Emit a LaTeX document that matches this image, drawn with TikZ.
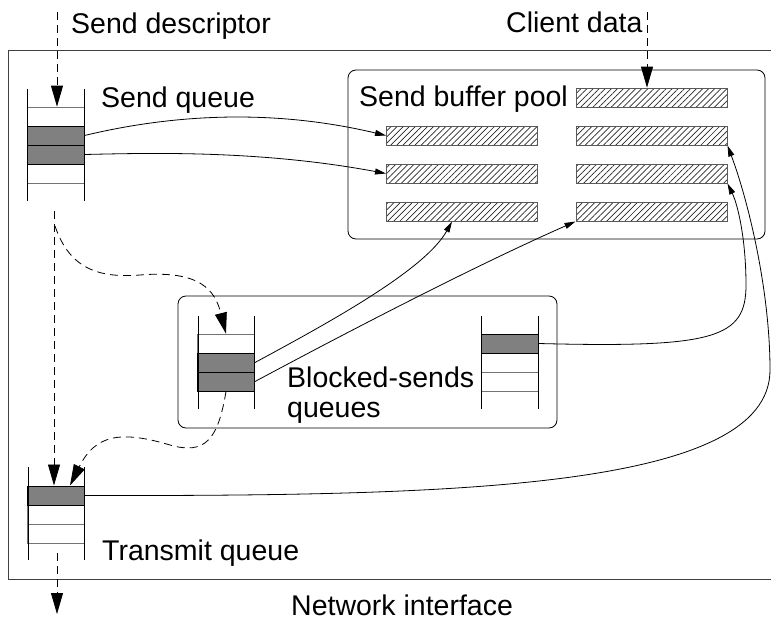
\documentclass[tikz,border=0pt]{standalone}
\usepackage{fontspec}
\setmainfont{Liberation Sans}
\usetikzlibrary{arrows.meta,patterns.meta,calc}
\begin{document}
\begin{tikzpicture}[x=1pt,y=-1pt,
  font=\fontsize{28.5}{30}\selectfont,
  lbl/.style={anchor=base west,inner sep=0pt},
  cellw/.style={draw=black!55,line width=0.7pt,fill=white,minimum width=57pt,minimum height=19pt,inner sep=0pt},
  cellg/.style={draw=black,line width=1pt,fill=black!50,minimum width=57pt,minimum height=19pt,inner sep=0pt},
  buf/.style={draw=black!65,line width=1pt,pattern={Lines[angle=45,distance=4.3pt,line width=0.7pt]},pattern color=black!85,minimum width=151pt,minimum height=19pt,inner sep=0pt},
  pool/.style={draw=black,line width=0.8pt,rounded corners=8pt,inner sep=0pt},
  flow/.style={dash pattern=on 8pt off 5pt,line width=0.8pt,-{Triangle[length=21pt,width=12pt]}},
  link/.style={line width=0.8pt,-{Triangle[length=11pt,width=6pt]}},
  qside/.style={line width=0.8pt}
]
\useasboundingbox (0,0) rectangle (771,621);
% outer frame
\draw[line width=0.8pt,black!75] (8,50) rectangle (780,579);
% pool boxes
\node[pool,minimum width=417pt,minimum height=169pt] (bufpool) at (556.5,154.5) {};
\node[pool,minimum width=379pt,minimum height=132pt] (blkbox) at (367.5,362) {};
% buffers
\node[buf] (b0) at (651.5,97.5) {};
\node[buf] (b21) at (462,135.5) {};
\node[buf] (b22) at (651.5,135.5) {};
\node[buf] (b31) at (462,173.5) {};
\node[buf] (b32) at (651.5,173.5) {};
\node[buf] (b41) at (462,211.5) {};
\node[buf] (b42) at (651.5,211.5) {};
% send queue
\node[cellw] (sq0) at (55.5,116.5) {};
\node[cellw] (sq3) at (55.5,173.5) {};
\node[cellg] (sq1) at (55.5,135.5) {};
\node[cellg] (sq2) at (55.5,154.5) {};
\draw[qside] (27,89) -- (27,201) (84,89) -- (84,201);
% blocked queue 1
\node[cellw] (bq0) at (226,343.5) {};
\node[cellg] (bq1) at (226,362.5) {};
\node[cellg] (bq2) at (226,381.5) {};
\draw[qside] (198,316) -- (198,409) (254,316) -- (254,409);
% blocked queue 2
\node[cellw] (cq2) at (509.5,362.5) {};
\node[cellw] (cq3) at (509.5,381.5) {};
\node[cellg] (cq1) at (509.5,343.5) {};
\draw[qside] (481,316) -- (481,409) (538,316) -- (538,409);
% transmit queue
\node[cellw] (tq2) at (56,514.5) {};
\node[cellw] (tq3) at (56,533.5) {};
\node[cellg] (tq1) at (56,495.5) {};
\draw[qside] (28,467) -- (28,560) (84,467) -- (84,560);
% labels
\node[lbl] (lsd) at (71,33) {Send descriptor};
\node[lbl] (lcd) at (506,32) {Client data};
\node[lbl] (lsq) at (101,107) {Send queue};
\node[lbl] (lsbp) at (359,106) {Send buffer pool};
\node[lbl,align=left] (lbs) at (287,417) {Blocked-sends\\queues};
\node[lbl] (ltq) at (102,560) {Transmit queue};
\node[lbl] (lni) at (291,615) {Network interface};
% solid links
\draw[link] (sq1.east) .. controls (170,115) and (270,108) .. (b21.west);
\draw[link] (sq2.east) .. controls (150,153) and (260,150) .. (b31.west);
\draw[link] (bq1.east) .. controls (330,322) and (425,270) .. ($(b41.south)+(-10,0)$);
\draw[link] (bq2.east) .. controls (340,336) and (470,268) .. (b42.south west);
\draw[link] (cq1.east) .. controls (715,348) and (746,338) .. (746,285) .. controls (746,240) and (738,205) .. (b32.south east);
\draw[link] (tq1.east) .. controls (450,496) and (770,490) .. (770,370) .. controls (770,290) and (748,200) .. (b22.south east);
% dashed flows
\coordinate (sdin) at (57,12);
\draw[flow] (sdin) -- (sdin |- sq0.north);
\coordinate (cdin) at (647,12);
\draw[flow] (cdin) -- (cdin |- b0.north);
\coordinate (sqout) at (54,211);
\draw[flow] (sqout) -- (sqout |- tq1.north);
\coordinate (bkin) at (55,226);
\draw[flow] (bkin) .. controls (70,270) and (100,278) .. (140,275) .. controls (200,270) and (215,290) .. (bq0.north);
\draw[flow] (bq2.south) .. controls (218,440) and (205,455) .. (170,445) .. controls (120,430) and (95,435) .. ($(tq1.north)+(14,0)$);
\coordinate (tqout) at (57,553);
\coordinate (netout) at (57,614);
\draw[flow] (tqout) -- (netout);
\end{tikzpicture}
\end{document}
